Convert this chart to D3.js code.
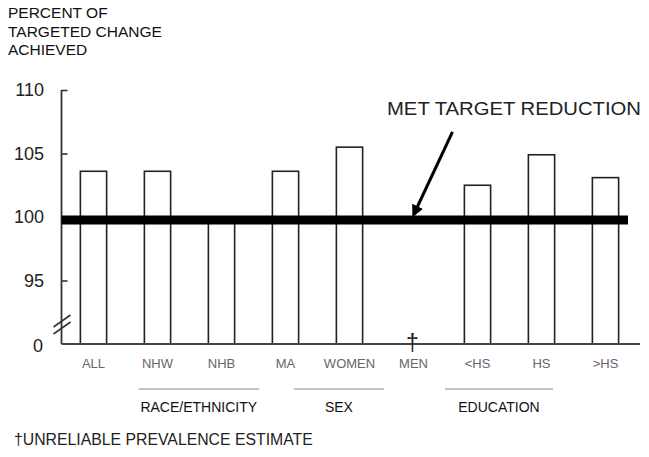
<!DOCTYPE html>
<html>
<head>
<meta charset="utf-8">
<script src="https://cdn.jsdelivr.net/npm/d3@7"></script>
<style>
  body { margin: 0; background: #fff; }
  text { font-family: "Liberation Sans", Arial, sans-serif; }
</style>
</head>
<body>
<div id="chart"></div>
<script>
// data
const categories = ["ALL", "NHW", "NHB", "MA", "WOMEN", "MEN", "<HS", "HS", ">HS"];
const values = [103.6, 103.6, 100, 103.6, 105.5, null, 102.5, 104.9, 103.1];
const unreliable = ["MEN"];
const tickValues = [95, 100, 105, 110];
const groupNames = ["RACE/ETHNICITY", "SEX", "EDUCATION"];
const target = 100;

// layout (category-index spans for the group underlines, hand drawn in the original)
const groupSpans = [[1.2, 3.09], [3.63, 5.04], [5.99, 7.68]];

const width = 649, height = 457;
const plotLeft = 61.5, plotRight = 637.5, plotTop = 90, plotBottom = 344;

const svg = d3.select("#chart").append("svg")
    .attr("width", width)
    .attr("height", height);

const x = d3.scaleBand()
    .domain(categories)
    .range([plotLeft, plotRight])
    .paddingInner(0.59)
    .paddingOuter(0.295);

const xIdx = d3.scaleLinear().domain([0, categories.length]).range([plotLeft, plotRight]);

const y = d3.scaleLinear()
    .domain([90, 110])
    .range([plotBottom, plotTop]);

// title
svg.append("text")
    .attr("x", 8)
    .attr("y", 18)
    .attr("font-size", 15.5)
    .attr("fill", "#111")
    .selectAll("tspan")
    .data(["PERCENT OF", "TARGETED CHANGE", "ACHIEVED"])
    .join("tspan")
    .attr("x", 8)
    .attr("dy", (d, i) => i === 0 ? 0 : 18.5)
    .text(d => d);

// bars
const barData = categories.map((c, i) => ({cat: c, value: values[i]})).filter(d => d.value != null);
svg.append("g")
    .selectAll("rect")
    .data(barData)
    .join("rect")
    .attr("x", d => x(d.cat))
    .attr("y", d => y(d.value))
    .attr("width", x.bandwidth())
    .attr("height", d => y(90) - y(d.value))
    .attr("fill", "#fff")
    .attr("stroke", "#222")
    .attr("stroke-width", 1.6);

// y axis
const yAxis = d3.axisRight(y)
    .tickValues(tickValues)
    .tickSize(6)
    .tickFormat("");
const ga = svg.append("g")
    .attr("transform", `translate(${plotLeft},0)`)
    .call(yAxis);
ga.select(".domain").remove();
ga.selectAll(".tick line").attr("stroke", "#333").attr("stroke-width", 1.6);

svg.append("line")
    .attr("x1", plotLeft).attr("x2", plotLeft)
    .attr("y1", y(110)).attr("y2", y(90))
    .attr("stroke", "#333").attr("stroke-width", 1.8);

svg.append("g")
    .selectAll("text")
    .data(tickValues)
    .join("text")
    .attr("x", 44)
    .attr("y", d => y(d))
    .attr("dy", "0.36em")
    .attr("text-anchor", "end")
    .attr("font-size", 18)
    .attr("fill", "#222")
    .text(d => d);

svg.append("text")
    .attr("x", 43)
    .attr("y", y(90) + 2)
    .attr("dy", "0.36em")
    .attr("text-anchor", "end")
    .attr("font-size", 18)
    .attr("fill", "#222")
    .text("0");

// axis break
svg.append("g")
    .selectAll("line")
    .data([0, 7])
    .join("line")
    .attr("x1", plotLeft - 8).attr("x2", plotLeft + 9)
    .attr("y1", d => 327 + d).attr("y2", d => 315 + d)
    .attr("stroke", "#333").attr("stroke-width", 1.6);

// baseline
svg.append("line")
    .attr("x1", plotLeft).attr("x2", 640)
    .attr("y1", y(90)).attr("y2", y(90))
    .attr("stroke", "#444").attr("stroke-width", 2);

// target line
svg.append("line")
    .attr("x1", plotLeft).attr("x2", 628)
    .attr("y1", y(target) + 3).attr("y2", y(target) + 3)
    .attr("stroke", "#000").attr("stroke-width", 9);

// dagger for unreliable estimates
svg.append("g")
    .selectAll("text")
    .data(unreliable)
    .join("text")
    .attr("x", d => x(d) + x.bandwidth() / 2 - 1)
    .attr("y", y(90) + 7)
    .attr("text-anchor", "middle")
    .attr("font-size", 23)
    .attr("fill", "#222")
    .text("\u2020");

// category labels
svg.append("g")
    .selectAll("text")
    .data(categories)
    .join("text")
    .attr("x", d => x(d) + x.bandwidth() / 2)
    .attr("y", 368)
    .attr("text-anchor", "middle")
    .attr("font-size", 13)
    .attr("fill", "#666")
    .text(d => d);

// group underlines and labels
const groups = svg.append("g")
    .selectAll("g")
    .data(groupNames)
    .join("g");
groups.append("line")
    .attr("x1", (d, i) => xIdx(groupSpans[i][0]))
    .attr("x2", (d, i) => xIdx(groupSpans[i][1]))
    .attr("y1", 389).attr("y2", 389)
    .attr("stroke", "#888").attr("stroke-width", 1.2);
groups.append("text")
    .attr("x", (d, i) => (xIdx(groupSpans[i][0]) + xIdx(groupSpans[i][1])) / 2)
    .attr("y", 412)
    .attr("text-anchor", "middle")
    .attr("font-size", 14)
    .attr("fill", "#111")
    .text(d => d);

// annotation
svg.append("defs").append("marker")
    .attr("id", "arrow")
    .attr("viewBox", "0 0 10 10")
    .attr("refX", 8).attr("refY", 5)
    .attr("markerWidth", 4).attr("markerHeight", 4)
    .attr("orient", "auto")
    .append("path")
    .attr("d", "M0,0L10,5L0,10z")
    .attr("fill", "#000");

svg.append("line")
    .attr("x1", x("MEN") + x.bandwidth() / 2 + 39)
    .attr("y1", y(106.7))
    .attr("x2", x("MEN") + x.bandwidth() / 2)
    .attr("y2", y(target) - 2)
    .attr("stroke", "#000")
    .attr("stroke-width", 3)
    .attr("marker-end", "url(#arrow)");

svg.append("text")
    .attr("x", 387)
    .attr("y", 115)
    .attr("font-size", 19)
    .attr("fill", "#222")
    .attr("textLength", 254)
    .attr("lengthAdjust", "spacingAndGlyphs")
    .text("MET TARGET REDUCTION");

// footnote
svg.append("text")
    .attr("x", 14)
    .attr("y", 445)
    .attr("font-size", 15.8)
    .attr("fill", "#222")
    .text("\u2020UNRELIABLE PREVALENCE ESTIMATE");
</script>
</body>
</html>
